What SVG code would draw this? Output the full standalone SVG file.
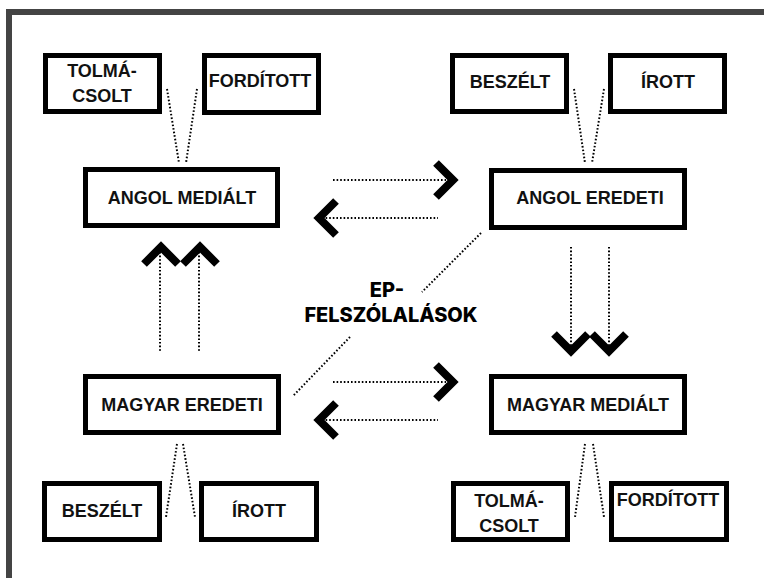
<svg xmlns="http://www.w3.org/2000/svg" width="764" height="578" viewBox="0 0 764 578">
<style>
.box{fill:#fff;stroke:#000;stroke-width:5}
.lbl{font-family:"Liberation Sans",Arial,sans-serif;font-weight:bold;font-size:18px;fill:#111;text-anchor:middle}
.dot{fill:none;stroke:#000;stroke-width:2;stroke-dasharray:1.6 2}
.chev{fill:none;stroke:#000;stroke-width:8;stroke-linecap:butt;stroke-linejoin:miter}
.ep{font-family:Inter,"Open Sans",sans-serif;font-weight:800;font-size:20px;fill:#000;text-anchor:middle}
</style>
<rect width="764" height="578" fill="#fff"/>
<g id="frame" fill="#444">
<rect x="6" y="9" width="758" height="6"/>
<rect x="6" y="9" width="6" height="569"/>
</g>
<g id="connectors">
<line class="dot" x1="167" y1="89" x2="179" y2="163"/>
<line class="dot" x1="197" y1="89" x2="186" y2="163"/>
<line class="dot" x1="574" y1="89" x2="585" y2="163"/>
<line class="dot" x1="604" y1="89" x2="592" y2="163"/>
<line class="dot" x1="177" y1="444" x2="166" y2="517"/>
<line class="dot" x1="183" y1="444" x2="195" y2="517"/>
<line class="dot" x1="585" y1="444" x2="575" y2="517"/>
<line class="dot" x1="593" y1="444" x2="604" y2="517"/>
<line class="dot" x1="333" y1="180" x2="446" y2="180"/>
<polyline class="chev" points="436,163 453,180 436,197"/>
<line class="dot" x1="322" y1="218" x2="438" y2="218"/>
<polyline class="chev" points="336,201 319,218 336,235"/>
<line class="dot" x1="333" y1="382" x2="446" y2="382"/>
<polyline class="chev" points="436,365 453,382 436,399"/>
<line class="dot" x1="322" y1="420" x2="438" y2="420"/>
<polyline class="chev" points="336,403 319,420 336,437"/>
<line class="dot" x1="160" y1="252" x2="160" y2="352"/>
<line class="dot" x1="199" y1="252" x2="199" y2="352"/>
<polyline class="chev" points="144,264 161,247 178,264"/>
<polyline class="chev" points="183,264 200,247 217,264"/>
<line class="dot" x1="571" y1="247" x2="571" y2="346"/>
<line class="dot" x1="609" y1="247" x2="609" y2="346"/>
<polyline class="chev" points="554,334 571,351 588,334"/>
<polyline class="chev" points="592,334 609,351 626,334"/>
<line class="dot" x1="481" y1="233" x2="422" y2="292"/>
<line class="dot" x1="350" y1="337" x2="293" y2="396"/>
</g>
<g id="n-tolmacsolt-top"><rect class="box" x="45.5" y="55.5" width="114" height="56"/><text class="lbl" x="102" y="77">TOLMÁ-</text><text class="lbl" x="102" y="102">CSOLT</text></g>
<g id="n-forditott-top"><rect class="box" x="204.5" y="55.5" width="114" height="57"/><text class="lbl" x="260" y="87">FORDÍTOTT</text></g>
<g id="n-angol-medialt"><rect class="box" x="85.5" y="169.5" width="192" height="56"/><text class="lbl" x="182" y="204">ANGOL MEDIÁLT</text></g>
<g id="n-beszelt-top"><rect class="box" x="452.5" y="55.5" width="114" height="56"/><text class="lbl" x="510" y="88">BESZÉLT</text></g>
<g id="n-irott-top"><rect class="box" x="610.5" y="55.5" width="114" height="56"/><text class="lbl" x="668" y="88">ÍROTT</text></g>
<g id="n-angol-eredeti"><rect class="box" x="491.5" y="170.5" width="193" height="57"/><text class="lbl" x="590" y="204">ANGOL EREDETI</text></g>
<g id="n-magyar-eredeti"><rect class="box" x="85.5" y="376.5" width="193" height="56"/><text class="lbl" x="182" y="411">MAGYAR EREDETI</text></g>
<g id="n-beszelt-bottom"><rect class="box" x="44.5" y="483.5" width="115" height="56"/><text class="lbl" x="102" y="517">BESZÉLT</text></g>
<g id="n-irott-bottom"><rect class="box" x="201.5" y="483.5" width="115" height="56"/><text class="lbl" x="259" y="517">ÍROTT</text></g>
<g id="n-magyar-medialt"><rect class="box" x="491.5" y="376.5" width="193" height="56"/><text class="lbl" x="588" y="411">MAGYAR MEDIÁLT</text></g>
<g id="n-tolmacsolt-bottom"><rect class="box" x="453.5" y="483.5" width="114" height="56"/><text class="lbl" x="509" y="507">TOLMÁ-</text><text class="lbl" x="509" y="532">CSOLT</text></g>
<g id="n-forditott-bottom"><rect class="box" x="611.5" y="483.5" width="115" height="56"/><text class="lbl" x="668" y="506">FORDÍTOTT</text></g>
<g id="n-ep"><text class="ep" x="387" y="297">EP-</text><text class="ep" x="391" y="322">FELSZÓLALÁSOK</text></g>
</svg>
